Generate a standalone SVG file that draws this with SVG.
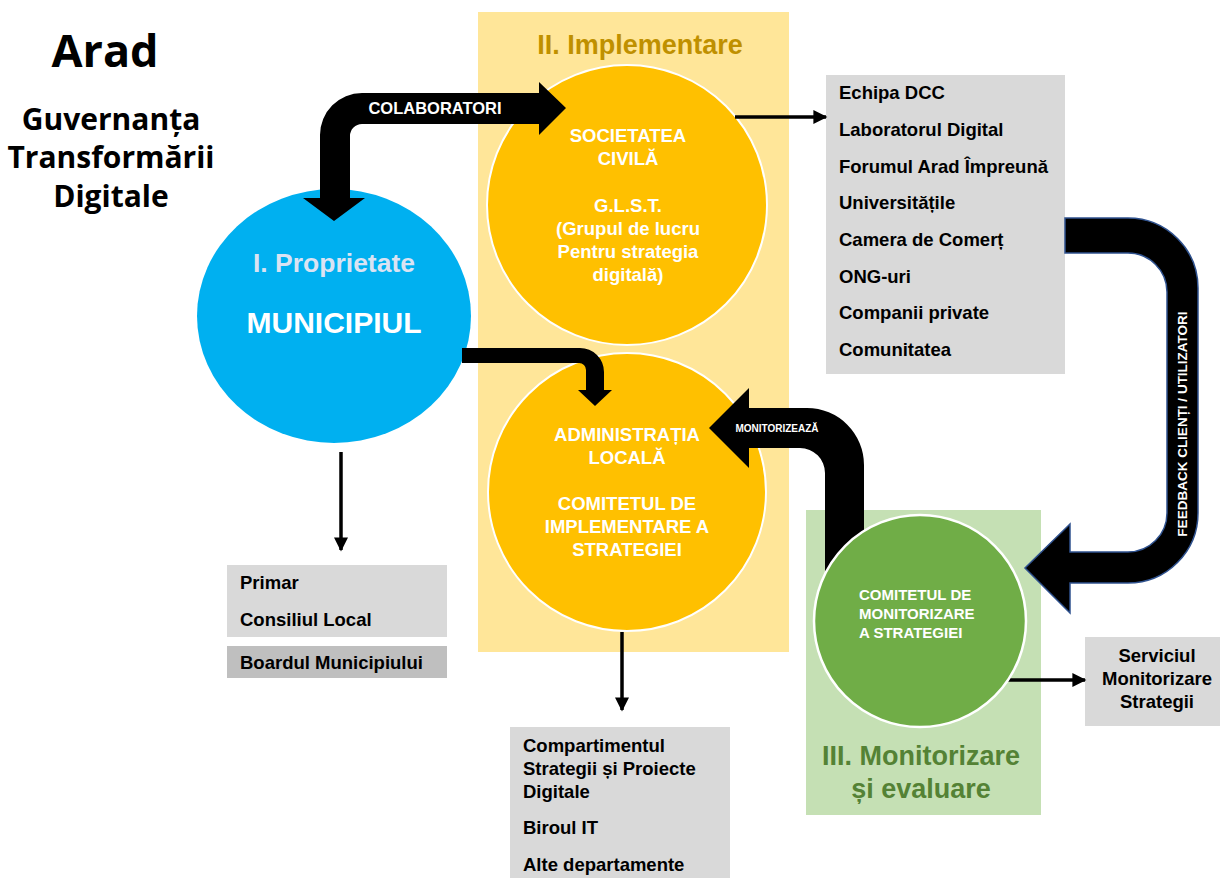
<svg xmlns="http://www.w3.org/2000/svg" width="1220" height="878" viewBox="0 0 1220 878">
<style>
.t{font-family:"Liberation Sans",Arial,sans-serif;font-weight:bold}
.lbl{font-size:18.5px;fill:#000}
.wc{font-size:18.5px;fill:#fff;text-anchor:middle}
.title{font-family:"Open Sans",Lato,sans-serif;font-weight:bold;fill:#000;text-anchor:middle}
.blk{fill:#000}
.ln{stroke:#000;stroke-width:3.5;fill:none;marker-end:url(#ah)}
.gray{fill:#D9D9D9}
</style>
<defs>
<marker id="ah" viewBox="0 0 10 10" refX="9" refY="5" markerWidth="15" markerHeight="14" markerUnits="userSpaceOnUse" orient="auto">
<path d="M0,0 L10,5 L0,10 z" fill="#000"/>
</marker>
</defs>
<rect width="1220" height="878" fill="#fff"/>

<g id="title">
<text class="title" x="105" y="67" font-size="45">Arad</text>
<text class="title" x="111" y="130" font-size="30">Guvernanța</text>
<text class="title" x="111" y="168" font-size="30">Transformării</text>
<text class="title" x="111" y="207" font-size="30">Digitale</text>
</g>

<g id="zone-implementare">
<rect x="478" y="12" width="311" height="640" fill="#FFE699"/>
<text class="t" x="640" y="54" font-size="27" fill="#BF9000" text-anchor="middle">II. Implementare</text>
</g>

<g id="zone-monitorizare">
<rect x="806" y="510" width="235" height="305" fill="#C5E0B4"/>
<text class="t" x="921" y="765" font-size="27" fill="#548235" text-anchor="middle">III. Monitorizare</text>
<text class="t" x="921" y="798" font-size="27" fill="#548235" text-anchor="middle">și evaluare</text>
</g>

<g id="node-municipiul">
<ellipse cx="334" cy="316" rx="137" ry="127" fill="#00B0F0"/>
<text class="t" x="334" y="272" font-size="26.5" fill="#DAE3F3" text-anchor="middle">I. Proprietate</text>
<text class="t" x="334" y="333" font-size="30" fill="#fff" text-anchor="middle">MUNICIPIUL</text>
</g>

<g id="node-societatea">
<circle cx="627" cy="205" r="140" fill="#FFC000" stroke="#fff" stroke-width="2"/>
<text class="t wc" x="628" y="142">SOCIETATEA</text>
<text class="t wc" x="628" y="165">CIVILĂ</text>
<text class="t wc" x="628" y="212">G.L.S.T.</text>
<text class="t wc" x="628" y="235">(Grupul de lucru</text>
<text class="t wc" x="628" y="258">Pentru strategia</text>
<text class="t wc" x="628" y="281">digitală)</text>
</g>

<g id="node-administratia">
<circle cx="627" cy="492" r="139" fill="#FFC000" stroke="#fff" stroke-width="2"/>
<text class="t wc" x="627" y="441">ADMINISTRAȚIA</text>
<text class="t wc" x="627" y="464">LOCALĂ</text>
<text class="t wc" x="627" y="510">COMITETUL DE</text>
<text class="t wc" x="627" y="533">IMPLEMENTARE A</text>
<text class="t wc" x="627" y="556">STRATEGIEI</text>
</g>

<g id="node-parteneri">
<rect class="gray" x="826" y="75" width="239" height="299"/>
<text class="t lbl" x="839" y="99">Echipa DCC</text>
<text class="t lbl" x="839" y="136">Laboratorul Digital</text>
<text class="t lbl" x="839" y="173">Forumul Arad Împreună</text>
<text class="t lbl" x="839" y="209">Universitățile</text>
<text class="t lbl" x="839" y="246">Camera de Comerț</text>
<text class="t lbl" x="839" y="283">ONG-uri</text>
<text class="t lbl" x="839" y="319">Companii private</text>
<text class="t lbl" x="839" y="356">Comunitatea</text>
</g>

<g id="node-primar">
<rect class="gray" x="227" y="565" width="220" height="72"/>
<text class="t lbl" x="240" y="589">Primar</text>
<text class="t lbl" x="240" y="626">Consiliul Local</text>
</g>

<g id="node-boardul">
<rect x="227" y="646" width="220" height="32" fill="#BFBFBF"/>
<text class="t lbl" x="240" y="669">Boardul Municipiului</text>
</g>

<g id="node-compartiment">
<rect class="gray" x="510" y="727" width="220" height="151"/>
<text class="t lbl" x="523" y="752">Compartimentul</text>
<text class="t lbl" x="523" y="775">Strategii și Proiecte</text>
<text class="t lbl" x="523" y="798">Digitale</text>
<text class="t lbl" x="523" y="834">Biroul IT</text>
<text class="t lbl" x="523" y="871">Alte departamente</text>
</g>

<g id="node-serviciul">
<rect class="gray" x="1085" y="637" width="135" height="89"/>
<text class="t lbl" x="1157" y="662" text-anchor="middle">Serviciul</text>
<text class="t lbl" x="1157" y="685" text-anchor="middle">Monitorizare</text>
<text class="t lbl" x="1157" y="708" text-anchor="middle">Strategii</text>
</g>

<g id="connectors">
<path class="blk" d="M303,198 L320,198 L320,135 A42,42 0 0 1 362,93 L539,93 L539,82 L566,108 L539,135 L539,124 L362,124 A12,12 0 0 0 350,136 L350,198 L365,198 L334,221 Z"/>
<text class="t" x="435" y="114" font-size="16.5" fill="#fff" text-anchor="middle">COLABORATORI</text>
<path class="blk" d="M462,348 L580,348 A24,24 0 0 1 604,372 L604,390 L612,390 L595,406 L578,390 L586,390 L586,370 A7,7 0 0 0 579,363 L462,363 Z"/>
<path class="blk" d="M864,600 L864,465 A57,57 0 0 0 807,408 L749,408 L749,388 L709,428 L749,468 L749,448 L800,448 A25,25 0 0 1 825,473 L825,600 Z"/>
<text class="t" x="777" y="432" font-size="10" fill="#fff" text-anchor="middle">MONITORIZEAZĂ</text>
<path d="M1065,218 L1128,218 A70,70 0 0 1 1198,288 L1198,513 A70,70 0 0 1 1128,583 L1070,583 L1070,613 L1025,568 L1070,524 L1070,552 L1128,552 A39,39 0 0 0 1167,513 L1167,292 A39,39 0 0 0 1128,253 L1065,253 Z" fill="#000" stroke="#2F528F" stroke-width="1.5"/>
<text class="t" transform="translate(1187,424) rotate(-90)" x="0" y="0" font-size="13.5" fill="#fff" text-anchor="middle">FEEDBACK CLIENȚI / UTILIZATORI</text>
<line class="ln" x1="735" y1="117" x2="826" y2="117"/>
<line class="ln" x1="341" y1="452" x2="341" y2="550"/>
<line class="ln" x1="622" y1="632" x2="622" y2="710"/>
<line class="ln" x1="1008" y1="680" x2="1085" y2="680"/>
</g>

<g id="node-comitet-monitorizare">
<circle cx="920" cy="621" r="106" fill="#70AD47" stroke="#fff" stroke-width="2.5"/>
<text class="t" x="859" y="600" font-size="15" fill="#fff">COMITETUL DE</text>
<text class="t" x="859" y="619" font-size="15" fill="#fff">MONITORIZARE</text>
<text class="t" x="859" y="638" font-size="15" fill="#fff">A STRATEGIEI</text>
</g>
</svg>
